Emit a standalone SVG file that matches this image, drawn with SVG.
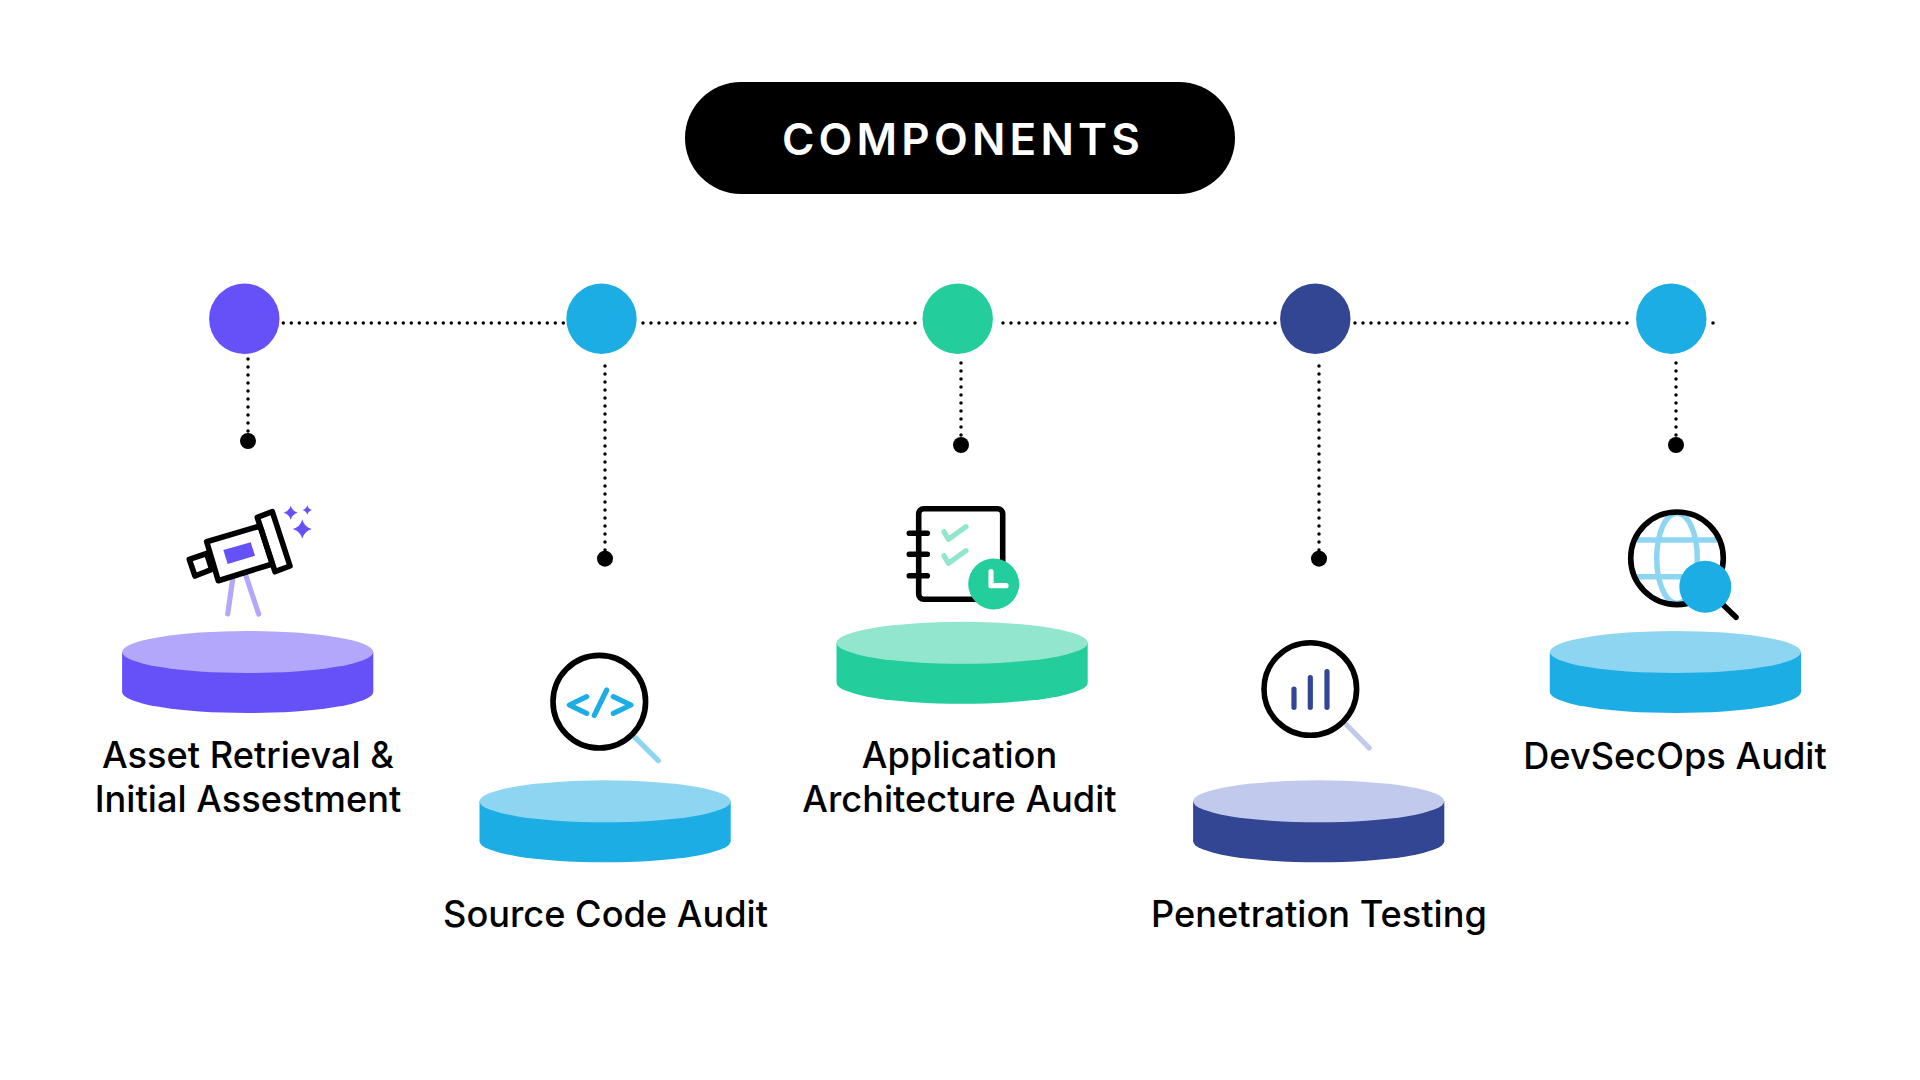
<svg xmlns="http://www.w3.org/2000/svg" width="1920" height="1080" viewBox="0 0 1920 1080">
<style>
text{font-family:Inter,"Liberation Sans",sans-serif;fill:#000}
.lbl{font-size:36.200px;font-weight:450;text-anchor:middle}
.title{font-size:44px;font-weight:600;letter-spacing:4.200px;text-anchor:middle;fill:#fff}
.dot{fill:none;stroke:#000;stroke-width:3.500;stroke-dasharray:0 8;stroke-linecap:round}
.ic{fill:none;stroke:#000;stroke-width:5.600;stroke-linecap:round;stroke-linejoin:round}
.ring{fill:none;stroke:#000;stroke-width:5.600}
.cl{fill:none;stroke-width:5.200;stroke-linecap:round;stroke-linejoin:round}
</style>
<defs>
<path id="side" d="M-125.600 0V40A125.600 21 0 0 0 125.600 40V0Z"/>
<ellipse id="top" rx="125.600" ry="21"/>
<path id="star" d="M0-1Q.22-.22 1 0Q.22.22 0 1Q-.22.22-1 0Q-.22-.22 0-1Z"/>
</defs>
<rect width="1920" height="1080" fill="#fff"/>
<g id="title"><rect x="685" y="82" width="550" height="112" rx="56" fill="#000"/><text class="title" x="963" y="155">COMPONENTS</text></g>
<g id="connectors">
<path class="dot" d="M283.300 323H564M643 323H916M1003 323H1276M1355 323H1628M1713 323H1714"/>
<path class="dot" d="M248 359V434M605 366V553M961 363V440M1319 366V553M1676 363V440"/>
<g fill="#000"><circle cx="248" cy="441" r="8"/><circle cx="605" cy="558.700" r="8"/><circle cx="961" cy="445" r="8"/><circle cx="1319" cy="558.700" r="8"/><circle cx="1676" cy="445" r="8"/></g>
</g>
<g id="node1">
<circle cx="244.300" cy="318.800" r="35.200" fill="#6650f8"/>
<g transform="translate(247.700 652)"><use href="#side" fill="#6650f8"/><use href="#top" fill="#b2a7fb"/></g>
<path class="cl" stroke="#b2a7fb" d="M232.700 579L227.700 614M246 576L258.700 614"/>
<path class="ic" d="M206.700 541.700L260 526L272.300 564L218.300 580.700Z"/>
<path class="ic" d="M257.300 517.300L272.300 511.700L290 566L275 571.700Z"/>
<path class="ic" d="M189.300 559.300L206.700 553.500L211.700 569.300L195 576Z"/>
<path fill="#6650f8" d="M223.300 550L250.700 542.300L255 555.700L227.700 564Z"/>
<g fill="#6650f8"><use href="#star" transform="translate(290.700 512.700) scale(7)"/><use href="#star" transform="translate(307.300 510) scale(4.700)"/><use href="#star" transform="translate(302.300 529) scale(9.500)"/></g>
<text class="lbl" x="248" y="768.300">Asset Retrieval &amp;</text>
<text class="lbl" x="248" y="812.300">Initial Assestment</text>
</g>
<g id="node2">
<circle cx="601.500" cy="318.800" r="35.200" fill="#1dade5"/>
<g transform="translate(605.100 801.300)"><use href="#side" fill="#1dade5"/><use href="#top" fill="#8ed5f2"/></g>
<path class="cl" stroke="#8ed5f2" d="M635 737.300L658.300 760.700"/>
<circle class="ring" cx="599.300" cy="701.700" r="46.300"/>
<path class="cl" stroke="#1dade5" d="M586.700 696.700L569.300 705L586.700 713.300M613.300 696.700L631 705L613.300 713.300M606.700 690L594.300 715.300"/>
<text class="lbl" x="605.500" y="927.300">Source Code Audit</text>
</g>
<g id="node3">
<circle cx="957.700" cy="318.800" r="35.200" fill="#24cd9c"/>
<g transform="translate(962.100 642.800)"><use href="#side" fill="#24cd9c"/><use href="#top" fill="#91e6cd"/></g>
<rect x="918.700" y="508.700" width="84" height="90.600" rx="5" class="ic"/>
<path class="ic" d="M909.300 533.300H927.300M909.300 554.300H927.300M909.300 575.700H927.300"/>
<path class="cl" stroke="#91e6cd" d="M944 531.700L948.300 539.300L966 526.700M944 555.700L948.300 563.300L966 550.700"/>
<circle cx="993.700" cy="584" r="25.500" fill="#24cd9c"/>
<path class="cl" stroke="#fff" d="M991 571.700V585.700H1006"/>
<text class="lbl" x="959.500" y="768.300">Application</text>
<text class="lbl" x="959.500" y="812.300">Architecture Audit</text>
</g>
<g id="node4">
<circle cx="1315.300" cy="318.800" r="35.200" fill="#334693"/>
<g transform="translate(1318.700 801.300)"><use href="#side" fill="#334693"/><use href="#top" fill="#c1c9ec"/></g>
<path class="cl" stroke="#c1c9ec" d="M1346.700 725L1369.300 748"/>
<circle class="ring" cx="1310.300" cy="689" r="46.300"/>
<path class="cl" stroke="#334693" d="M1294 689V707.300M1310.300 677.700V707.300M1327 671.700V707.300"/>
<text class="lbl" x="1319" y="927.300">Penetration Testing</text>
</g>
<g id="node5">
<circle cx="1671.300" cy="318.800" r="35.200" fill="#1dade5"/>
<g transform="translate(1675.400 652)"><use href="#side" fill="#1dade5"/><use href="#top" fill="#8ed5f2"/></g>
<g fill="none" stroke="#8ed5f2" stroke-width="5.500"><ellipse cx="1677" cy="558.300" rx="20.300" ry="45"/><path d="M1634.500 540H1719.500M1634.500 576.700H1719.500"/></g>
<circle class="ring" cx="1677" cy="558.300" r="46.300"/>
<path class="ic" d="M1723.300 605L1736 617.300"/>
<circle cx="1705.300" cy="586.700" r="26" fill="#1dade5"/>
<text class="lbl" x="1675" y="769.300">DevSecOps Audit</text>
</g>
</svg>
